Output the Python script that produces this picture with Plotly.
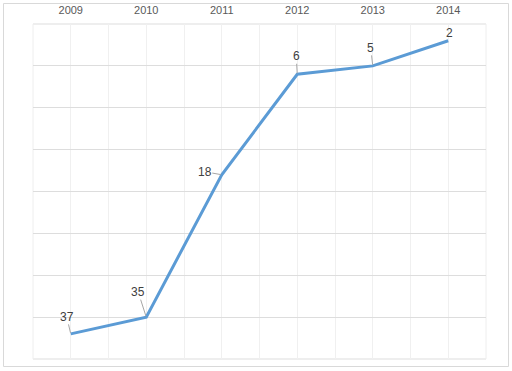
import plotly.graph_objects as go

years = [2009, 2010, 2011, 2012, 2013, 2014]
year_labels = ["2009", "2010", "2011", "2012", "2013", "2014"]
ranks = [37, 35, 18, 6, 5, 2]
# label offsets (px) of the data-label text from its point
label_dx = [-4, -8, -17, -1, -2, 1]
label_dy = [-17, -25, -3, -18, -18, -8]

fig = go.Figure()
fig.add_trace(go.Scatter(
    x=years, y=ranks, mode="lines",
    line=dict(color="#5B9BD5", width=3),
    hoverinfo="skip", showlegend=False,
))

for x, y, dx, dy in zip(years, ranks, label_dx, label_dy):
    fig.add_annotation(
        x=x, y=y, text=str(y), showarrow=True, arrowhead=0,
        arrowwidth=1, arrowcolor="#A6A6A6", ax=dx, ay=dy,
        standoff=1, font=dict(family="Liberation Sans", size=12, color="#404040"),
        borderpad=0,
    )

fig.update_xaxes(
    side="top", range=[2008.5, 2014.5], automargin=False,
    tickmode="array", tickvals=years, ticktext=year_labels,
    showgrid=True, gridcolor="#F0F0F0", gridwidth=1,
    zeroline=False, showline=False, ticks="", ticklabelstandoff=7,
    tickfont=dict(family="Liberation Sans", size=11, color="#595959"),
    minor=dict(tickmode="linear", tick0=2008.5, dtick=1, showgrid=True,
               gridcolor="#F0F0F0", gridwidth=1, ticks=""),
)
fig.update_yaxes(
    range=[40, 0], tickmode="linear", tick0=0, dtick=5, automargin=False,
    showgrid=True, gridcolor="#DDDDDD", gridwidth=1,
    showticklabels=False, zeroline=False, showline=False, ticks="",
)

# plot-area edges
for x0, y0, x1, y1, c in [(0, 1, 1, 1, "#DDDDDD"), (0, 0, 1, 0, "#DDDDDD"),
                          (0, 0, 0, 1, "#EEEEEE"), (1, 0, 1, 1, "#EEEEEE")]:
    fig.add_shape(type="line", xref="paper", yref="paper",
                  x0=x0, y0=y0, x1=x1, y1=y1,
                  line=dict(color=c, width=1), layer="below")

# outer chart border
W, H = 453.0, 335.0
fig.add_shape(type="rect", xref="paper", yref="paper",
              x0=(3.5 - 33) / W, x1=(508.5 - 33) / W,
              y0=(359 - 366.5) / H, y1=(359 - 3.5) / H,
              line=dict(color="#D9D9D9", width=1), layer="below")

fig.update_layout(
    width=512, height=371,
    margin=dict(l=33, r=26, t=24, b=12),
    paper_bgcolor="white", plot_bgcolor="white",
)

fig.write_html("out.html")
